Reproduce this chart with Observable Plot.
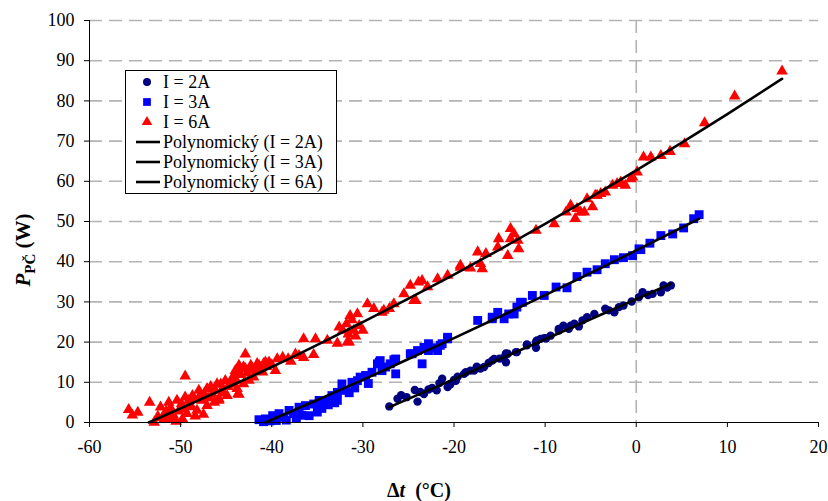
<!DOCTYPE html>
<html><head><meta charset="utf-8">
<script src="https://cdn.jsdelivr.net/npm/d3@7"></script>
<script src="https://cdn.jsdelivr.net/npm/@observablehq/plot@0.6"></script>
<style>
body{margin:0;background:#fff;}
#chart{width:828px;height:501px;}
</style></head><body><div id="chart"></div>
<script>
// ---- data ----
const xTicks = [-60,-50,-40,-30,-20,-10,0,10,20];
const yTicks = [0,10,20,30,40,50,60,70,80,90,100];
const seriesNames = ["I = 2A","I = 3A","I = 6A"];
const fitNames = ["Polynomický (I = 2A)","Polynomický (I = 3A)","Polynomický (I = 6A)"];

const dt2A = [-27.1,-26.2,-25.8,-25.2,-24.3,-24.0,-23.7,-23.3,-22.8,-22.4,-21.9,-21.6,-21.3,-20.7,-20.4,-20.0,-19.8,-19.6,-18.9,-18.7,-18.2,-17.8,-17.5,-17.1,-16.7,-16.2,-15.8,-15.6,-15.0,-14.5,-14.3,-14.3,-14.1,-13.2,-13.1,-12.0,-12.0,-11.0,-11.0,-10.9,-10.5,-10.1,-9.9,-9.4,-8.5,-8.5,-8.0,-7.4,-7.2,-6.8,-6.3,-5.9,-5.4,-4.6,-3.4,-3.0,-2.4,-1.9,-1.4,-0.5,0.3,0.7,1.3,1.8,2.7,3.0,3.4,3.8];
const p2A  = [4.0,5.9,6.8,6.3,8.1,5.2,7.6,7.1,8.2,8.6,8.0,9.8,10.9,8.8,9.5,10.6,10.4,11.4,12.1,12.5,12.9,12.9,13.9,13.4,13.8,14.8,15.4,15.8,15.9,16.2,15.0,17.2,17.1,17.5,17.5,19.4,19.2,18.6,20.0,20.4,20.8,21.0,20.9,21.6,23.3,22.9,24.1,23.3,24.1,24.6,23.9,25.4,26.2,27.0,28.3,27.9,27.4,28.7,29.1,30.1,31.2,32.4,31.7,32.0,32.4,34.1,33.6,34.1];

const dt3A = [-41.4,-40.9,-40.7,-40.2,-39.9,-39.5,-39.2,-38.7,-38.4,-38.1,-37.6,-37.3,-37.0,-36.7,-36.3,-35.9,-35.4,-35.0,-34.8,-34.5,-34.1,-33.8,-33.4,-33.1,-32.8,-32.8,-32.3,-31.9,-31.5,-31.2,-30.9,-30.6,-30.3,-29.7,-29.4,-29.0,-28.4,-28.2,-28.1,-27.9,-27.5,-27.0,-26.6,-26.4,-26.4,-24.8,-24.6,-24.0,-23.5,-23.3,-22.8,-22.8,-22.0,-21.8,-21.5,-21.3,-20.7,-20.7,-17.4,-15.8,-15.8,-15.2,-14.5,-14.0,-13.4,-13.1,-12.7,-12.5,-11.4,-10.1,-8.8,-7.6,-6.5,-5.4,-4.3,-3.4,-2.4,-1.4,-0.4,0.3,0.5,1.5,2.7,4.0,5.2,6.3,6.9];
const p3A  = [0.7,0.2,0.9,0.4,1.7,0.5,2.2,1.3,0.6,3.0,2.2,1.0,3.8,1.8,4.2,1.7,4.6,2.6,5.5,3.5,5.5,4.4,6.7,4.9,7.5,5.5,9.6,8.0,7.4,10.0,8.6,10.4,11.3,11.7,9.7,12.5,14.6,15.0,15.4,12.9,13.8,14.6,15.6,12.1,15.8,17.1,17.1,17.9,14.6,18.7,17.9,19.6,18.6,17.9,19.2,19.6,20.8,21.2,25.4,26.2,25.8,27.4,25.8,27.0,27.0,28.7,29.9,29.9,31.6,31.6,33.7,33.5,36.3,37.4,38.0,39.5,40.5,41.0,41.5,43.2,43.0,44.6,46.5,46.9,48.4,50.7,51.7];

const dt6A = [-55.7,-55.3,-54.7,-53.4,-52.9,-52.5,-52.2,-52.0,-51.8,-51.6,-51.5,-51.3,-51.1,-51.0,-50.8,-50.7,-50.5,-50.4,-50.2,-50.0,-49.9,-49.8,-49.6,-49.5,-49.5,-49.3,-49.1,-49.0,-48.8,-48.7,-48.5,-48.4,-48.2,-48.0,-47.9,-47.7,-47.5,-47.4,-47.1,-47.1,-46.9,-46.7,-46.5,-46.3,-46.2,-46.0,-45.8,-45.8,-45.6,-45.5,-45.3,-45.1,-44.9,-44.8,-44.5,-44.4,-44.2,-44.0,-43.9,-43.8,-43.7,-43.6,-43.6,-43.6,-43.4,-43.1,-43.1,-42.9,-42.9,-42.7,-42.5,-42.3,-42.1,-42.0,-41.8,-41.6,-41.4,-41.2,-41.0,-40.9,-40.7,-40.6,-40.3,-40.0,-39.6,-39.4,-38.8,-38.2,-37.9,-37.4,-37.0,-36.5,-36.5,-35.4,-35.2,-33.9,-32.8,-32.6,-32.2,-31.8,-31.7,-31.6,-31.5,-31.4,-31.2,-31.0,-30.8,-30.6,-30.4,-30.0,-29.5,-28.8,-27.9,-27.7,-27.1,-26.6,-25.5,-24.8,-24.4,-24.2,-23.9,-23.5,-22.9,-21.8,-20.7,-19.3,-19.3,-18.2,-17.4,-17.1,-16.9,-16.5,-15.2,-15.1,-14.1,-13.8,-13.8,-13.4,-13.0,-12.9,-11.0,-9.0,-7.7,-7.2,-6.7,-6.5,-6.1,-5.7,-5.4,-4.8,-4.5,-4.3,-3.9,-3.4,-2.6,-2.1,-1.7,-1.2,-0.6,-0.4,0.1,0.8,1.6,2.7,3.7,5.3,7.5,10.8,16.0];
const p6A  = [3.2,1.8,2.5,5.0,0.0,1.5,3.8,1.2,0.9,2.8,1.0,5.0,3.6,2.5,1.8,0.9,0.3,5.5,2.8,3.5,4.6,0.9,3.4,11.5,6.3,2.2,5.5,4.5,3.9,6.7,5.8,1.6,3.0,8.0,6.6,5.5,2.0,7.2,8.4,4.2,6.1,8.9,7.0,5.0,8.0,9.6,5.9,5.5,9.5,8.0,7.3,10.4,6.7,8.9,10.4,9.5,11.4,12.9,10.5,8.4,7.1,14.2,12.5,7.0,11.9,13.8,9.6,17.0,13.4,12.3,10.5,14.2,13.4,11.3,13.0,14.6,14.2,13.6,12.5,14.6,15.0,13.9,15.0,14.3,12.9,15.8,16.2,15.8,15.2,17.0,16.6,16.1,20.8,16.9,20.8,20.4,19.7,23.7,22.9,24.5,20.0,22.0,20.0,26.6,25.5,22.9,21.5,27.0,24.1,22.9,29.5,28.3,27.4,27.9,28.3,29.5,32.0,34.1,30.3,30.3,34.9,35.3,33.7,35.7,36.6,38.6,39.1,38.4,42.4,39.5,38.2,42.0,43.6,45.7,41.5,48.2,45.7,46.9,45.3,43.2,47.8,49.4,52.3,54.0,50.7,53.2,52.3,52.3,55.6,53.6,56.5,56.5,56.9,57.3,59.0,59.4,59.8,59.0,60.6,61.0,62.3,66.0,66.0,66.4,67.4,69.3,74.5,81.2,87.4];

// polynomial trend lines
const fitDt2A = [-27.1,-20,-10,0,3.8];
const fitP2A  = [3.8,10.8,20.7,30.7,34.5];
const fitDt3A = [-40.7,-35,-30,-25,-20,-15,-10,-5,0,5,6.9];
const fitP3A  = [0,5.6,10.6,15.8,21.0,26.3,31.7,37.2,42.8,48.5,50.7];
const fitDt6A = [-53.5,-50,-45,-40,-35,-30,-25,-20,-15,-10,-5,0,5,10,16];
const fitP6A  = [0,3.5,8.6,13.8,19.3,25.0,30.8,36.8,43.0,49.4,56.0,62.7,69.6,76.7,85.5];

const zip = (xs, ys) => xs.map((x, i) => ({x, y: ys[i]}));
const s2 = zip(dt2A, p2A), s3 = zip(dt3A, p3A), s6 = zip(dt6A, p6A);
const f2 = zip(fitDt2A, fitP2A), f3 = zip(fitDt3A, fitP3A), f6 = zip(fitDt6A, fitP6A);

const C2 = "#000080", C3 = "#0000ff", C6 = "#ff0000";
const font = "'Liberation Serif','Times New Roman',serif";
const grid = {stroke:"#b4b4b4", strokeWidth:1.6, strokeDasharray:"13,7"};

const svg = Plot.plot({
  width:828, height:501,
  marginLeft:89, marginRight:10, marginTop:20, marginBottom:79,
  style:{fontFamily:font, fontSize:"18px", color:"#000", background:"#fff", overflow:"visible"},
  x:{domain:[-60,20]},
  y:{domain:[0,100]},
  marks:[
    Plot.ruleY(yTicks.filter(d => d > 0), grid),
    Plot.ruleX([0], grid),
    Plot.dot(s6, {x:"x", y:"y", symbol:"triangle", r:4.3, fill:C6, stroke:null}),
    Plot.dot(s3, {x:"x", y:"y", symbol:"square", r:5, fill:C3, stroke:null}),
    Plot.dot(s2, {x:"x", y:"y", symbol:"circle", r:4.2, fill:C2, stroke:null}),
    Plot.line(f6, {x:"x", y:"y", stroke:"#000", strokeWidth:2.6, curve:"monotone-x"}),
    Plot.line(f3, {x:"x", y:"y", stroke:"#000", strokeWidth:2.6, curve:"monotone-x"}),
    Plot.line(f2, {x:"x", y:"y", stroke:"#000", strokeWidth:2.6, curve:"monotone-x"}),
    Plot.ruleY([0], {stroke:"#000", strokeWidth:1}),
    Plot.ruleX([-60], {stroke:"#000", strokeWidth:1}),
    Plot.axisX({ticks:xTicks, tickFormat:d => String(d), tickSize:5, tickPadding:13, label:null, fontSize:18}),
    Plot.axisY({ticks:yTicks, tickFormat:d => String(d), tickSize:5, tickPadding:10, label:null, fontSize:18})
  ]
});
document.getElementById("chart").appendChild(svg);

const root = d3.select(svg);
// axis titles
const yl = root.append("text")
  .attr("transform", "translate(30,250) rotate(-90)")
  .attr("text-anchor", "middle")
  .style("font-family", font).style("font-weight", "bold").style("font-size", "21px").attr("fill", "#000");
yl.append("tspan").style("font-style", "italic").text("P");
yl.append("tspan").attr("dy", 5).style("font-size", "15px").text("PČ");
yl.append("tspan").attr("dy", -5).text(" (W)");

const xl = root.append("text")
  .attr("x", 419).attr("y", 497)
  .attr("text-anchor", "middle")
  .style("font-family", font).style("font-weight", "bold").style("font-size", "20px").attr("fill", "#000");
xl.append("tspan").text("Δ");
xl.append("tspan").style("font-style", "italic").text("t");
xl.append("tspan").text("\u00a0\u00a0(°C)");

// legend
const lg = root.append("g").style("font-family", font).style("font-size", "18px").attr("text-anchor", "start");
lg.append("rect").attr("x", 125.5).attr("y", 70.5).attr("width", 211).attr("height", 123)
  .attr("fill", "#fff").attr("stroke", "#000").attr("stroke-width", 1);
const rows = [
  {label:seriesNames[0], kind:"circle", color:C2},
  {label:seriesNames[1], kind:"square", color:C3},
  {label:seriesNames[2], kind:"triangle", color:C6},
  {label:fitNames[0], kind:"line"},
  {label:fitNames[1], kind:"line"},
  {label:fitNames[2], kind:"line"}
];
rows.forEach((r, i) => {
  const cy = 82 + i * 20;
  if (r.kind === "line") {
    lg.append("line").attr("x1", 136).attr("x2", 160).attr("y1", cy).attr("y2", cy)
      .attr("stroke", "#000").attr("stroke-width", 2.6);
  } else {
    const sym = r.kind === "circle" ? d3.symbolCircle : r.kind === "square" ? d3.symbolSquare : d3.symbolTriangle;
    const size = r.kind === "circle" ? Math.PI * 16 : r.kind === "square" ? 60 : 48;
    lg.append("path").attr("d", d3.symbol(sym, size)()).attr("transform", `translate(147,${cy})`).attr("fill", r.color);
  }
  lg.append("text").attr("x", 163).attr("y", cy + 6).attr("text-anchor", "start").attr("fill", "#000").text(r.label);
});
</script></body></html>
